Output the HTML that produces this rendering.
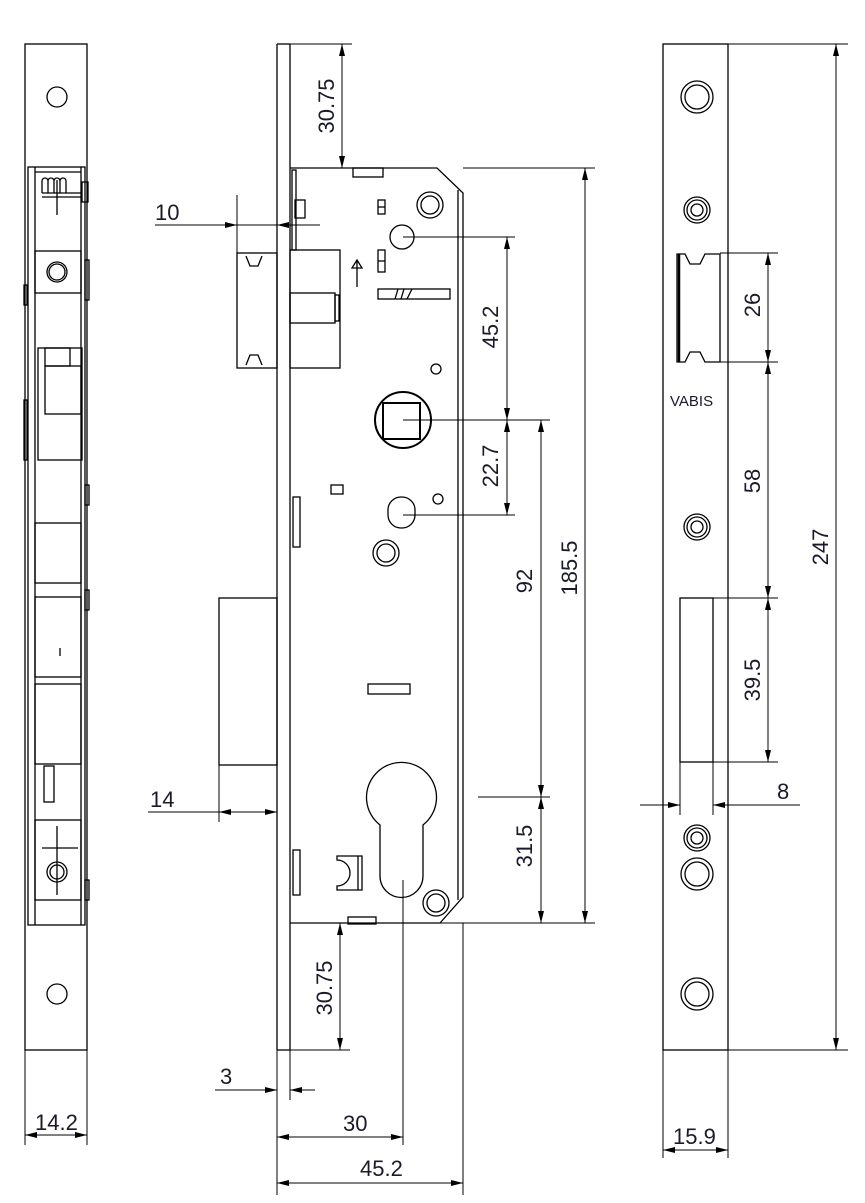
<!DOCTYPE html>
<html><head><meta charset="utf-8"><style>
html,body{margin:0;padding:0;background:#fff}
svg{display:block}
text{font-family:"Liberation Sans",sans-serif;font-size:22px;fill:#1a1a2a}
</style></head><body>
<svg width="865" height="1203" viewBox="0 0 865 1203" xmlns="http://www.w3.org/2000/svg">
<defs>
<marker id="a" viewBox="0 0 12 6" refX="12" refY="3" markerWidth="12" markerHeight="6" markerUnits="userSpaceOnUse" orient="auto-start-reverse"><path d="M0,0L12,3L0,6z" fill="#000"/></marker>
</defs>
<g fill="none" stroke="#000" stroke-width="1.3">
<!-- LEFT VIEW -->
<rect x="25" y="44" width="62" height="1006"/>
<circle cx="57" cy="97" r="10"/><circle cx="57" cy="994" r="10"/>
<rect x="28" y="167" width="57" height="758"/>
<line x1="35" y1="167" x2="35" y2="925"/><line x1="81" y1="167" x2="81" y2="925"/>
<line x1="35" y1="172" x2="81" y2="172"/>
<path d="M42,193 v-12 a3,3 0 0 1 6,0 v12 M48,181 a3,3 0 0 1 6,0 v12 M54,181 a3,3 0 0 1 6,0 v12 M60,181 a3,3 0 0 1 6,0 v12"/>
<line x1="42" y1="193" x2="82" y2="193"/><line x1="42" y1="197" x2="82" y2="197"/><line x1="57" y1="180" x2="57" y2="215"/>
<rect x="82" y="182" width="6" height="20"/>
<rect x="35" y="251" width="46" height="42"/><circle cx="57" cy="272" r="10"/><circle cx="57" cy="272" r="8"/>
<rect x="38" y="348" width="44" height="112"/><rect x="45" y="348" width="25" height="18"/><rect x="45" y="366" width="36" height="48"/>
<rect x="35" y="523" width="46" height="60"/>
<rect x="35" y="597" width="46" height="80"/><rect x="35" y="684" width="46" height="80"/>
<line x1="60" y1="648" x2="60" y2="656"/>
<rect x="44" y="766" width="10" height="36"/>
<rect x="35" y="820" width="46" height="80"/><circle cx="57" cy="872" r="10"/><circle cx="57" cy="872" r="7"/>
<line x1="57" y1="826" x2="57" y2="895"/><line x1="42" y1="848" x2="78" y2="848"/>
<rect x="24" y="285" width="3" height="20"/><rect x="24" y="400" width="3" height="60"/><rect x="85" y="260" width="4" height="40"/><rect x="85" y="485" width="4" height="20"/><rect x="85" y="590" width="4" height="20"/><rect x="85" y="880" width="4" height="20"/>
<!-- MIDDLE VIEW -->
<line x1="277" y1="44" x2="277" y2="1050"/><line x1="290" y1="44" x2="290" y2="1050"/>
<line x1="277" y1="44" x2="290" y2="44"/><line x1="277" y1="1050" x2="290" y2="1050"/>
<path d="M290,168 H437 L463,193 V897 L440,923 H290"/>
<line x1="458" y1="190" x2="458" y2="900"/>
<rect x="353" y="168" width="30" height="9"/>
<rect x="295" y="200" width="10" height="18"/><rect x="292" y="170" width="4" height="80"/>
<rect x="237" y="253" width="40" height="115"/>
<path d="M246,256 l4,10 h8 l4,-10 M246,365 l4,-10 h8 l4,10"/>
<rect x="290" y="250" width="50" height="118"/><rect x="290" y="293" width="45" height="30"/><rect x="335" y="295" width="4" height="26"/>
<path d="M357,287 v-26 M352,268 l5,-8 l5,8z"/>
<rect x="378" y="200" width="7" height="14"/><line x1="378" y1="207" x2="385" y2="207"/>
<rect x="378" y="250" width="7" height="22"/><line x1="378" y1="261" x2="385" y2="261"/>
<circle cx="402" cy="237" r="12"/>
<rect x="378" y="289" width="72" height="10"/><path d="M398,289 l-3,10 M404,289 l-3,10 M412,289 l-5,10"/>
<circle cx="430" cy="205" r="13"/><circle cx="430" cy="205" r="9"/>
<circle cx="386" cy="553" r="13"/><circle cx="386" cy="553" r="9"/>
<circle cx="436" cy="903" r="13"/><circle cx="436" cy="903" r="9"/>
<circle cx="697" cy="210" r="13"/><circle cx="697" cy="210" r="10"/><circle cx="697" cy="210" r="6"/>
<circle cx="697" cy="527" r="13"/><circle cx="697" cy="527" r="10"/><circle cx="697" cy="527" r="6"/>
<circle cx="697" cy="838" r="13"/><circle cx="697" cy="838" r="10"/><circle cx="697" cy="838" r="6"/>
<circle cx="436" cy="369" r="5"/><circle cx="438" cy="499" r="5"/>
<circle cx="403" cy="420" r="28" stroke-width="2"/>
<rect x="383" y="403" width="37" height="36" stroke-width="2"/>
<rect x="331" y="485" width="12" height="9"/>
<rect x="388" y="497" width="27" height="31" rx="13" ry="13"/>
<rect x="368" y="684" width="42" height="10"/>
<rect x="219" y="598" width="58" height="167"/>
<path d="M380,825 A35,35 0 1 1 423,825 V876 A21.5,21.5 0 0 1 380,876 Z"/>
<path d="M337,856 h25 v34 h-25 v-4 a13,13 0 0 0 0,-26z M358,856 v34"/>
<rect x="293" y="850" width="7" height="45"/><rect x="293" y="497" width="7" height="50"/>
<rect x="348" y="917" width="28" height="7"/>
<!-- RIGHT VIEW -->
<rect x="663" y="44" width="65" height="1006"/>
<circle cx="697" cy="97" r="16"/><circle cx="697" cy="97" r="12"/>
<circle cx="697" cy="874" r="16"/><circle cx="697" cy="874" r="12"/>
<circle cx="697" cy="994" r="16"/><circle cx="697" cy="994" r="12"/>
<path d="M677,254 h8 l5,10 h10 l5,-10 h15 v108 h-15 l-5,-10 h-10 l-5,10 h-8z"/>
<line x1="679" y1="254" x2="679" y2="362" stroke-width="2.5"/>
<rect x="680" y="598" width="33" height="164"/>
</g>
<g fill="none" stroke="#000" stroke-width="1">
<line x1="290" y1="44" x2="352" y2="44"/><line x1="342" y1="44" x2="342" y2="168" marker-start="url(#a)" marker-end="url(#a)"/>
<line x1="155" y1="225" x2="237" y2="225" marker-end="url(#a)"/><line x1="237" y1="225" x2="320" y2="225"/><line x1="290" y1="225" x2="277" y2="225" marker-end="url(#a)"/><line x1="237" y1="195" x2="237" y2="253"/>
<line x1="403" y1="237" x2="515" y2="237"/><line x1="403" y1="420" x2="550" y2="420"/><line x1="403" y1="515" x2="515" y2="515"/>
<line x1="507" y1="237" x2="507" y2="420" marker-start="url(#a)" marker-end="url(#a)"/>
<line x1="507" y1="420" x2="507" y2="515" marker-start="url(#a)" marker-end="url(#a)"/>
<line x1="541" y1="420" x2="541" y2="797" marker-start="url(#a)" marker-end="url(#a)"/>
<line x1="478" y1="797" x2="550" y2="797"/>
<line x1="541" y1="797" x2="541" y2="923" marker-start="url(#a)" marker-end="url(#a)"/>
<line x1="463" y1="168" x2="595" y2="168"/><line x1="440" y1="923" x2="595" y2="923"/>
<line x1="585" y1="168" x2="585" y2="923" marker-start="url(#a)" marker-end="url(#a)"/>
<line x1="148" y1="812" x2="219" y2="812"/><line x1="219" y1="812" x2="277" y2="812" marker-start="url(#a)" marker-end="url(#a)"/><line x1="219" y1="765" x2="219" y2="822"/>
<line x1="290" y1="1050" x2="350" y2="1050"/><line x1="340" y1="923" x2="340" y2="1050" marker-start="url(#a)" marker-end="url(#a)"/>
<line x1="277" y1="1050" x2="277" y2="1195"/><line x1="290" y1="1050" x2="290" y2="1100"/>
<line x1="215" y1="1090" x2="277" y2="1090" marker-end="url(#a)"/><line x1="315" y1="1090" x2="290" y2="1090" marker-end="url(#a)"/>
<line x1="403" y1="880" x2="403" y2="1145"/><line x1="277" y1="1137" x2="403" y2="1137" marker-start="url(#a)" marker-end="url(#a)"/>
<line x1="463" y1="923" x2="463" y2="1195"/><line x1="277" y1="1183" x2="463" y2="1183" marker-start="url(#a)" marker-end="url(#a)"/>
<line x1="25" y1="1050" x2="25" y2="1145"/><line x1="87" y1="1050" x2="87" y2="1145"/>
<line x1="25" y1="1135" x2="87" y2="1135" marker-start="url(#a)" marker-end="url(#a)"/>
<line x1="663" y1="1050" x2="663" y2="1158"/><line x1="728" y1="1050" x2="728" y2="1158"/>
<line x1="663" y1="1150" x2="728" y2="1150" marker-start="url(#a)" marker-end="url(#a)"/>
<line x1="720" y1="253" x2="778" y2="253"/><line x1="720" y1="362" x2="778" y2="362"/><line x1="713" y1="598" x2="778" y2="598"/><line x1="713" y1="762" x2="778" y2="762"/>
<line x1="768" y1="253" x2="768" y2="362" marker-start="url(#a)" marker-end="url(#a)"/>
<line x1="768" y1="362" x2="768" y2="598" marker-start="url(#a)" marker-end="url(#a)"/>
<line x1="768" y1="598" x2="768" y2="762" marker-start="url(#a)" marker-end="url(#a)"/>
<line x1="680" y1="762" x2="680" y2="815"/><line x1="713" y1="762" x2="713" y2="815"/>
<line x1="640" y1="805" x2="680" y2="805" marker-end="url(#a)"/><line x1="800" y1="805" x2="713" y2="805" marker-end="url(#a)"/>
<line x1="728" y1="44" x2="848" y2="44"/><line x1="728" y1="1050" x2="848" y2="1050"/>
<line x1="836" y1="44" x2="836" y2="1050" marker-start="url(#a)" marker-end="url(#a)"/>
</g>
<g>
<text x="155" y="220">10</text>
<text x="150" y="807">14</text>
<text x="220" y="1084">3</text>
<text x="343" y="1131">30</text>
<text x="360" y="1176">45.2</text>
<text x="35" y="1130">14.2</text>
<text x="673" y="1144">15.9</text>
<text x="777" y="799">8</text>
<text x="670" y="406" style="font-size:15px">VABIS</text>
<text transform="translate(334,106) rotate(-90)" text-anchor="middle">30.75</text>
<text transform="translate(332,988) rotate(-90)" text-anchor="middle">30.75</text>
<text transform="translate(498,327) rotate(-90)" text-anchor="middle">45.2</text>
<text transform="translate(498,466) rotate(-90)" text-anchor="middle">22.7</text>
<text transform="translate(532,581) rotate(-90)" text-anchor="middle">92</text>
<text transform="translate(532,846) rotate(-90)" text-anchor="middle">31.5</text>
<text transform="translate(577,568) rotate(-90)" text-anchor="middle">185.5</text>
<text transform="translate(760,305) rotate(-90)" text-anchor="middle">26</text>
<text transform="translate(760,481) rotate(-90)" text-anchor="middle">58</text>
<text transform="translate(760,680) rotate(-90)" text-anchor="middle">39.5</text>
<text transform="translate(828,547) rotate(-90)" text-anchor="middle">247</text>
</g>
</svg>
</body></html>
